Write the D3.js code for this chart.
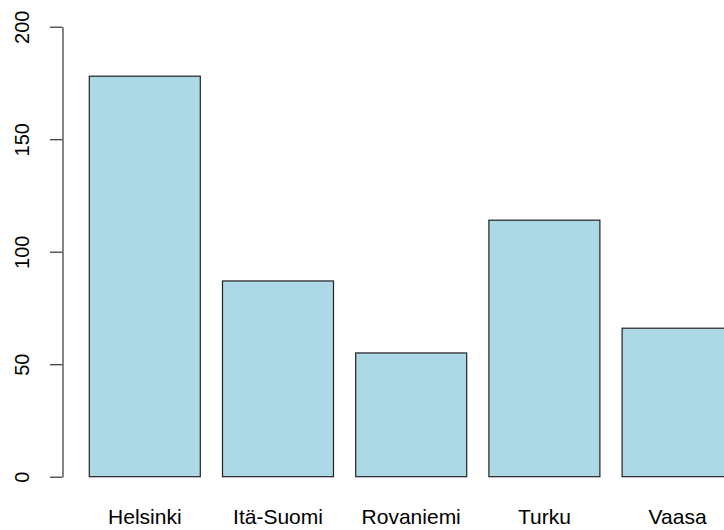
<!DOCTYPE html>
<html>
<head>
<meta charset="utf-8">
<script src="https://cdn.jsdelivr.net/npm/d3@7"></script>
<style>
  html, body { margin: 0; padding: 0; background: #fff; overflow: hidden; }
  svg { display: block; }
  text { font-family: "Liberation Sans", Arial, sans-serif; fill: #000; }
</style>
</head>
<body>
<script>
const categories = ["Helsinki", "Itä-Suomi", "Rovaniemi", "Turku", "Vaasa"];
const values = [178, 87, 55, 114, 66];
const yTicks = [0, 50, 100, 150, 200];

const W = 724, H = 530;
const svg = d3.select("body").append("svg").attr("width", W).attr("height", H);

const x = d3.scaleBand().domain(categories).range([89.3, 733.1])
  .paddingInner(1/6).paddingOuter(0);
const y = d3.scaleLinear().domain([0, 200]).range([476.7, 26.7]);

svg.selectAll("rect.bar").data(categories).join("rect")
  .attr("class", "bar")
  .attr("x", d => x(d))
  .attr("y", (d, i) => y(values[i]))
  .attr("width", x.bandwidth())
  .attr("height", (d, i) => y(0) - y(values[i]))
  .attr("fill", "#ADD8E6")
  .attr("stroke", "#222")
  .attr("stroke-width", 1.2);

// y axis
const yAxis = d3.axisLeft(y).tickValues(yTicks).tickSize(12.5).tickSizeOuter(0)
  .tickFormat(d3.format("d"));
const g = svg.append("g").attr("transform", "translate(62.5,0)").call(yAxis);
g.select(".domain").attr("stroke", "#333").attr("stroke-width", 1.2);
g.selectAll(".tick line").attr("stroke", "#333").attr("stroke-width", 1.2);
g.selectAll(".tick text")
  .attr("font-size", 20)
  .attr("font-family", "Liberation Sans, Arial, sans-serif")
  .attr("fill", "#000")
  .attr("text-anchor", "middle")
  .attr("transform", "rotate(-90)")
  .attr("x", 0)
  .attr("y", -33.5)
  .attr("dy", 0)
  .each(function(d) {
    const t = d3.select(this);
    t.attr("x", -y(d)).attr("transform", "rotate(-90)");
  });
// Re-position tick texts outside of tick translate
g.selectAll(".tick").each(function(d) {
  const tk = d3.select(this);
  tk.select("text").attr("x", 0).attr("transform", "rotate(-90)");
});

// x labels
svg.selectAll("text.xl").data(categories).join("text")
  .attr("class", "xl")
  .attr("x", d => x(d) + x.bandwidth() / 2)
  .attr("y", 524)
  .attr("text-anchor", "middle")
  .attr("font-size", 21)
  .text(d => d);
</script>
</body>
</html>
